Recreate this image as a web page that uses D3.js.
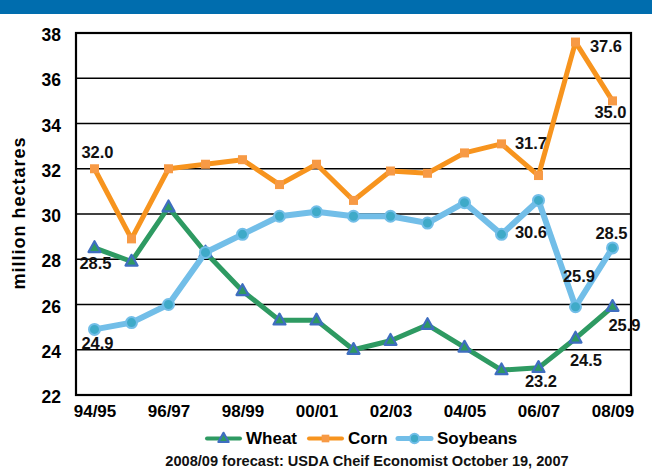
<!DOCTYPE html>
<html>
<head>
<meta charset="utf-8">
<script src="https://cdn.jsdelivr.net/npm/d3@7"></script>
<style>
  html, body { margin: 0; padding: 0; background: #fff; }
  svg { display: block; font-family: "Liberation Sans", Arial, sans-serif; }
</style>
</head>
<body>
<svg id="chart" width="652" height="469"></svg>
<script>
// Harvested area by crop year, million hectares
const seasons = ["94/95","95/96","96/97","97/98","98/99","99/00","00/01","01/02",
                 "02/03","03/04","04/05","05/06","06/07","07/08","08/09"];
const wheat    = [28.5, 27.9, 30.3, 28.3, 26.6, 25.3, 25.3, 24.0, 24.4, 25.1, 24.1, 23.1, 23.2, 24.5, 25.9];
const corn     = [32.0, 28.9, 32.0, 32.2, 32.4, 31.3, 32.2, 30.6, 31.9, 31.8, 32.7, 33.1, 31.7, 37.6, 35.0];
const soybeans = [24.9, 25.2, 26.0, 28.3, 29.1, 29.9, 30.1, 29.9, 29.9, 29.6, 30.5, 29.1, 30.6, 25.9, 28.5];
const yTicks   = [22, 24, 26, 28, 30, 32, 34, 36, 38];
const xTickLabels = ["94/95","96/97","98/99","00/01","02/03","04/05","06/07","08/09"];
const seriesNames = ["Wheat", "Corn", "Soybeans"];
const footnote = "2008/09 forecast: USDA Cheif Economist October 19, 2007";

// Which points carry a value label, and where the label sits relative to the point
const labelSpots = [
  { s: "Corn",     i: 0,  dx: 3,    dy: -11 },
  { s: "Corn",     i: 12, dx: -7.5, dy: -27 },
  { s: "Corn",     i: 13, dx: 30.5, dy: 9.5 },
  { s: "Corn",     i: 14, dx: -2,   dy: 17.5 },
  { s: "Wheat",    i: 0,  dx: 1,    dy: 21.5 },
  { s: "Wheat",    i: 12, dx: 2.5,  dy: 19 },
  { s: "Wheat",    i: 13, dx: 10.5, dy: 28 },
  { s: "Wheat",    i: 14, dx: 12,   dy: 24 },
  { s: "Soybeans", i: 0,  dx: 3,    dy: 20 },
  { s: "Soybeans", i: 12, dx: -7.5, dy: 38 },
  { s: "Soybeans", i: 13, dx: 3.5,  dy: -25 },
  { s: "Soybeans", i: 14, dx: -1,   dy: -8.5 }
];

const values = { Wheat: wheat, Corn: corn, Soybeans: soybeans };
const styles = {
  Wheat:    { line: "#2E9A62", width: 5, marker: "triangle" },
  Corn:     { line: "#F7941E", width: 5, marker: "square" },
  Soybeans: { line: "#72BEE8", width: 6, marker: "circle" }
};

const svg = d3.select("#chart");
const plot = { left: 76, right: 631, top: 33, bottom: 395 };

// Header band
svg.append("rect").attr("x", 0).attr("y", 0).attr("width", 652).attr("height", 14)
  .attr("fill", "#006DAE");

const x = d3.scalePoint().domain(seasons).range([plot.left, plot.right]).padding(0.5);
const y = d3.scaleLinear().domain([22, 38]).range([plot.bottom, plot.top]);

// Horizontal gridlines
svg.append("g").selectAll("line").data(yTicks.slice(1, -1)).join("line")
  .attr("x1", plot.left).attr("x2", plot.right)
  .attr("y1", d => y(d)).attr("y2", d => y(d))
  .attr("stroke", "#000").attr("stroke-width", 1.6);

// Y axis labels
const yAxis = d3.axisLeft(y).tickValues(yTicks).tickSize(0).tickPadding(15);
const gy = svg.append("g").attr("transform", `translate(${plot.left},2)`).call(yAxis);
gy.select(".domain").remove();
gy.selectAll("text").attr("font-size", 17.5).attr("font-weight", "bold").attr("fill", "#000")
  .attr("font-family", "Liberation Sans, Arial, sans-serif");

// X axis labels
const xAxis = d3.axisBottom(x).tickValues(xTickLabels).tickSize(0).tickPadding(10);
const gx = svg.append("g").attr("transform", `translate(0,${plot.bottom})`).call(xAxis);
gx.select(".domain").remove();
gx.selectAll("text").attr("font-size", 17).attr("font-weight", "bold").attr("fill", "#000")
  .attr("font-family", "Liberation Sans, Arial, sans-serif");

// Axis title
svg.append("text")
  .attr("transform", `translate(25,${(plot.top + plot.bottom) / 2 - 1}) rotate(-90)`)
  .attr("text-anchor", "middle")
  .attr("font-size", 18).attr("font-weight", "bold").attr("letter-spacing", 1)
  .text("million hectares");

// Markers
function drawMarker(g, kind, cx, cy, scale = 1) {
  if (kind === "square") {
    const h = 4.5 * scale;
    g.append("rect").attr("x", cx - h).attr("y", cy - h).attr("width", 2 * h).attr("height", 2 * h)
      .attr("fill", "#F79A45");
  } else if (kind === "triangle") {
    const s = 12 * scale, h = s * 0.9;
    g.append("path")
      .attr("d", `M${cx},${cy - h * 0.62} L${cx + s / 2},${cy + h * 0.38} L${cx - s / 2},${cy + h * 0.38} Z`)
      .attr("fill", "#2E9A62").attr("stroke", "#3F6EC0").attr("stroke-width", 2.2)
      .attr("stroke-linejoin", "round");
  } else {
    g.append("circle").attr("cx", cx).attr("cy", cy).attr("r", 5.5 * scale)
      .attr("fill", "#3FAAC8").attr("stroke", "#72BEE8").attr("stroke-width", 2);
  }
}

const line = d3.line().x((d, i) => x(seasons[i])).y(d => y(d));

seriesNames.forEach(name => {
  const st = styles[name];
  const g = svg.append("g");
  g.append("path").datum(values[name]).attr("d", line)
    .attr("fill", "none").attr("stroke", st.line).attr("stroke-width", st.width)
    .attr("stroke-linejoin", "round");
  values[name].forEach((v, i) => drawMarker(g, st.marker, x(seasons[i]), y(v)));
});

// Plot frame
svg.append("rect").attr("x", plot.left).attr("y", plot.top)
  .attr("width", plot.right - plot.left).attr("height", plot.bottom - plot.top)
  .attr("fill", "none").attr("stroke", "#000").attr("stroke-width", 2.2);

// Value labels
svg.append("g").selectAll("text").data(labelSpots).join("text")
  .attr("x", d => x(seasons[d.i]) + d.dx)
  .attr("y", d => y(values[d.s][d.i]) + d.dy)
  .attr("text-anchor", "middle")
  .attr("font-size", 16.5).attr("font-weight", "bold").attr("fill", "#111")
  .text(d => values[d.s][d.i].toFixed(1));

// Legend
const legendItems = [
  { name: "Wheat",    x0: 207 },
  { name: "Corn",     x0: 309 },
  { name: "Soybeans", x0: 398 }
];
const lg = svg.append("g");
legendItems.forEach(item => {
  const st = styles[item.name];
  const ly = 438.5;
  lg.append("line").attr("x1", item.x0).attr("x2", item.x0 + 33)
    .attr("y1", ly).attr("y2", ly)
    .attr("stroke", st.line).attr("stroke-width", st.width - 1).attr("stroke-linecap", "round");
  drawMarker(lg, st.marker, item.x0 + 16.5, ly, 0.85);
  lg.append("text").attr("x", item.x0 + 39).attr("y", ly + 5.5)
    .attr("font-size", 17).attr("font-weight", "bold").attr("fill", "#000")
    .text(item.name);
});

// Footnote
svg.append("text").attr("x", 367).attr("y", 466).attr("text-anchor", "middle")
  .attr("font-size", 14.6).attr("font-weight", "bold").attr("fill", "#111")
  .text(footnote);
</script>
</body>
</html>
